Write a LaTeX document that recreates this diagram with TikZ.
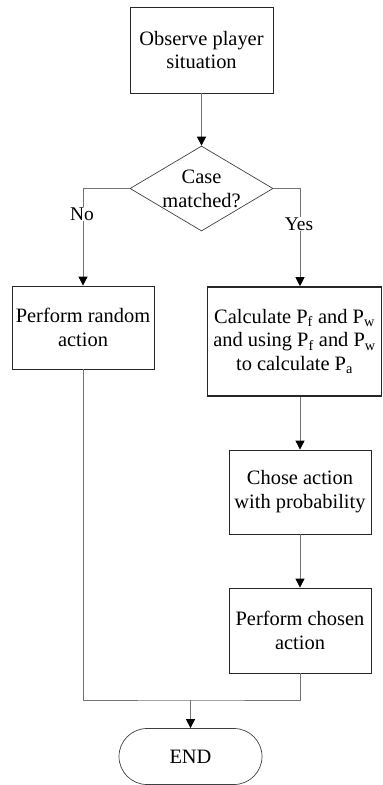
\documentclass[tikz,border=0pt]{standalone}
\usepackage{fontspec}
\setmainfont{Liberation Serif}
\usetikzlibrary{shapes.geometric,shapes.misc,arrows.meta,calc}
\begin{document}
\begin{tikzpicture}[x=1bp,y=-1bp,
  every node/.style={font=\fontsize{20.5}{24}\selectfont},
  box/.style={draw=black!85,line width=0.8bp,rectangle,align=center,inner sep=0},
  conn/.style={draw=black!55,line width=0.8bp},
  arr/.style={conn,-{Triangle[length=9bp,width=9bp,black]}},
  lbl/.style={fill=white,inner sep=1bp,font=\fontsize{19.5}{22}\selectfont}]
\useasboundingbox (0,0) rectangle (382,785);
\node[box,minimum width=143bp,minimum height=86bp] (obs) at (201.5,50) {Observe player\\situation};
\node[diamond,draw=black!75,line width=0.7bp,minimum width=143bp,minimum height=85bp,inner sep=0] (dec) at (201.5,188.5) {};
\node[align=center] (dectext) at (dec) {Case\\matched?};
\node[box,minimum width=142bp,minimum height=83bp] (rand) at (83,327.5) {Perform random\\action};
\node[box,line width=1.6bp,minimum width=174bp,minimum height=109bp] (calc) at (294.5,341.5) {Calculate P\textsubscript{f} and P\textsubscript{w}\\and using P\textsubscript{f} and P\textsubscript{w}\\to calculate P\textsubscript{a}};
\node[box,minimum width=142bp,minimum height=84bp] (chose) at (300,492) {Chose action\\with probability};
\node[box,minimum width=142bp,minimum height=85bp] (perf) at (300,630.5) {Perform chosen\\action};
\node[rounded rectangle,draw=black!75,line width=0.7bp,minimum width=143bp,minimum height=56bp,inner sep=0] (endn) at (190.5,756.5) {END};
\coordinate (m) at (190.5,700);
\draw[arr] (obs.south) -- (dec.north);
\draw[arr] (dec.west) -| (rand.north);
\draw[arr] (dec.east) -| (calc.north -| chose.north);
\draw[arr] (calc.south -| chose.north) -- (chose.north);
\draw[arr] (chose.south) -- (perf.north);
\draw[conn] (rand.south) |- (m) -| (perf.south);
\draw[arr] (m) -- (endn.north);
\node[lbl] (no) at (82,214) {No};
\node[lbl] (yes) at (299,224) {Yes};
\end{tikzpicture}
\end{document}
